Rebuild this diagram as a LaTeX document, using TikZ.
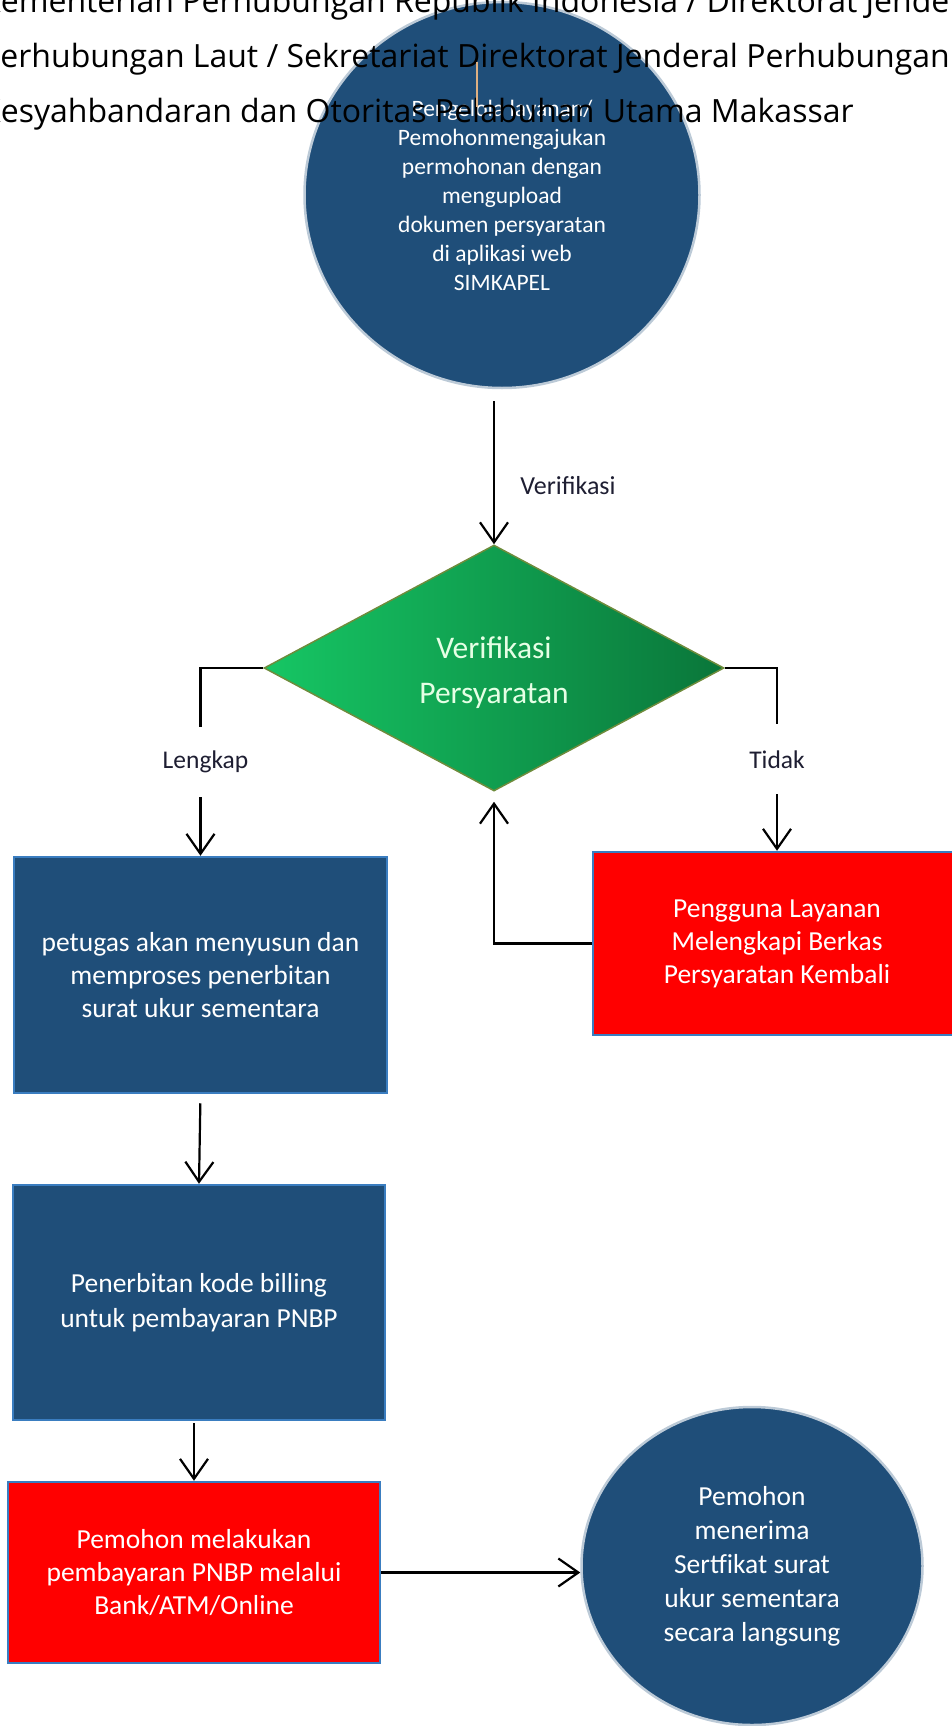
\documentclass[tikz,border=0pt]{standalone}
\usepackage{fontspec}
\setmainfont{Carlito}
\newfontfamily\titlefont{Open Sans}
\usetikzlibrary{shapes.geometric,arrows.meta}
\definecolor{dblue}{RGB}{31,78,121}
\definecolor{bborder}{RGB}{58,125,192}
\definecolor{gL}{RGB}{22,198,100}
\definecolor{gM}{RGB}{19,172,88}
\definecolor{gR}{RGB}{10,118,58}
\definecolor{gB}{RGB}{110,140,60}
\definecolor{tanline}{RGB}{222,176,130}
\definecolor{labcol}{RGB}{30,30,50}
\begin{document}
\begin{tikzpicture}[x=1pt,y=-1pt,
  arr/.style={draw=black, line width=2.2pt, -{Straight Barb[length=20pt,width=28pt]}},
  bluebox/.style={rectangle, fill=dblue, draw=bborder, line width=2.5pt, inner sep=0, align=center, text=white, font=\fontsize{27.5}{33}\selectfont},
  redbox/.style={bluebox, fill=red},
  bcircle/.style={ellipse, fill=dblue, draw=white!70!dblue, line width=2.5pt, inner sep=0, align=center, text=white},
  lab/.style={fill=white, inner xsep=3pt, inner ysep=0pt, minimum height=70pt, font=\fontsize{25.5}{28}\selectfont, text=labcol},
  ttl/.style={anchor=base west, inner sep=0, font=\titlefont\fontsize{32}{38}\selectfont}
]
\useasboundingbox (0,0) rectangle (952,1726);
\clip (0,0) rectangle (952,1726);

% top circle
\node[bcircle, minimum width=395pt, minimum height=386pt,
      font=\fontsize{23.5}{29}\selectfont] (c1) at (502,195)
  {Pengelola layanan/\\Pemohonmengajukan\\permohonan dengan\\mengupload\\dokumen persyaratan\\di aplikasi web\\SIMKAPEL};

% title lines
\node[ttl] (t1) at (-19,13) {Kementerian Perhubungan Republik Indonesia / Direktorat Jenderal};
\node[ttl] (t2) at (-19,68) {Perhubungan Laut / Sekretariat Direktorat Jenderal Perhubungan};
\node[ttl] (t3) at (-19,123) {Kesyahbandaran dan Otoritas Pelabuhan Utama Makassar};

\coordinate (tanA) at (477,62);
\coordinate (tanB) at (477,107);
\draw[tanline, line width=2pt] (tanA) -- (tanB);

% decision
\node[diamond, minimum width=460pt, minimum height=246pt, inner sep=0,
      left color=gL, middle color=gM, right color=gR, draw=gB, line width=1.5pt] (dia) at (494,668) {};
\node[align=center, text=white!90!green, inner sep=0, font=\fontsize{31.5}{45}\selectfont] (diatext)
  at ([yshift=-5pt]dia.center) {Verifikasi\\Persyaratan};

% boxes
\node[bluebox, minimum width=373pt, minimum height=236pt] (box1) at (200.5,975)
  {petugas akan menyusun dan\\memproses penerbitan\\surat ukur sementara};
\node[bluebox, minimum width=372pt, minimum height=235pt, font=\fontsize{27.5}{35}\selectfont] (box2) at (199,1302.5)
  {Penerbitan kode billing\\untuk pembayaran PNBP};
\node[redbox, minimum width=372pt, minimum height=181pt] (box3) at (194,1572.5)
  {Pemohon melakukan\\pembayaran PNBP melalui\\Bank/ATM/Online};
\node[redbox, minimum width=368pt, minimum height=183pt] (boxR) at (777,943.5)
  {Pengguna Layanan\\Melengkapi Berkas\\Persyaratan Kembali};

% final circle
\node[bcircle, minimum width=341pt, minimum height=318pt,
      font=\fontsize{27.5}{34}\selectfont] (c2) at (752,1566)
  {Pemohon\\menerima\\Sertfikat surat\\ukur sementara\\secara langsung};

% connectors
\draw[arr] ([yshift=-12pt]c1.south -| dia.north) -- node[right, xshift=22pt, yshift=-13pt, font=\fontsize{26}{28}\selectfont, text=labcol] (lv) {Verifikasi} (dia.north);
\draw[arr] (dia.west) -| node[lab, pos=0.75, xshift=5pt] (ll) {Lengkap} (box1.north);
\draw[arr] (dia.east) -| node[lab, pos=0.75] (lt) {Tidak} (boxR.north);
\draw[arr, shorten >=10pt] (boxR.west) -| (dia.south);
\draw[arr, shorten <=9pt] (box1.south) -- (box2.north);
\draw[arr, shorten <=2pt] (box2.south -| box3.north) -- (box3.north);
\draw[arr] (box3.east) -- (c2.west |- box3.east);
\end{tikzpicture}
\end{document}
